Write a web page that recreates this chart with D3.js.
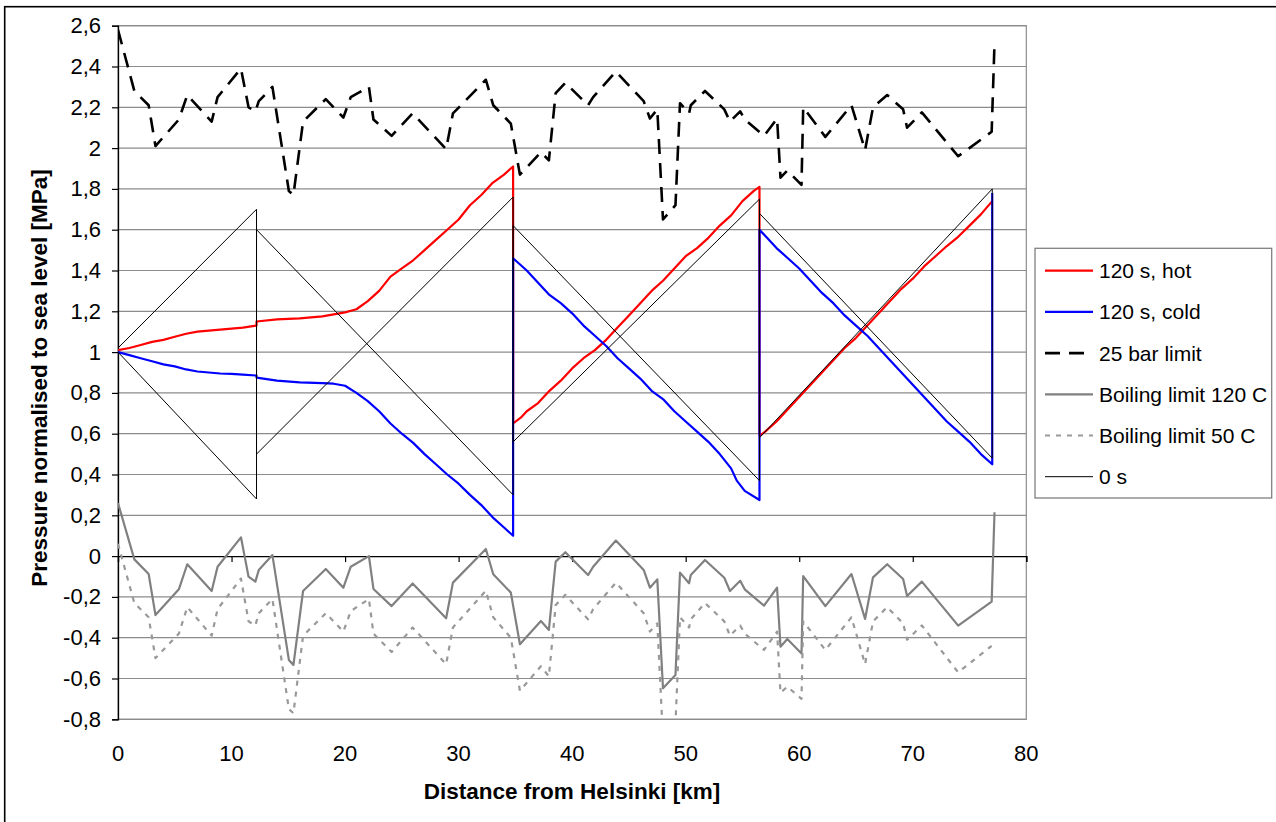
<!DOCTYPE html>
<html><head><meta charset="utf-8">
<script src="https://cdn.jsdelivr.net/npm/d3@7"></script>
<style>body{margin:0;background:#fff}svg{display:block}</style>
</head><body>
<script>
// ---------- data ----------
const xTicks = [0,10,20,30,40,50,60,70,80];
const yTicks = [-0.8,-0.6,-0.4,-0.2,0,0.2,0.4,0.6,0.8,1,1.2,1.4,1.6,1.8,2,2.2,2.4,2.6];
const seriesNames = ["120 s, hot","120 s, cold","25 bar limit","Boiling limit 120 C","Boiling limit 50 C","0 s"];

const hotKm = [0,1,2,3,4,5,6,7,8,9,10,11,12.2,12.2,14,16,18,19,20,21,22,23,24,25,26,27,28,29,30,31,32,33,34,34.8,
  34.8,35.5,36,37,38,39,40,41,42,43,44,45,46,47,48,49,50,51,52,53,54,55,56,56.5,
  56.5,57,58,59,60,61,62,63,64,65,66,67,68,69,70,71,72,73,74,75,76,77];
const hotVal = [1.01,1.02,1.035,1.05,1.06,1.075,1.09,1.10,1.105,1.11,1.115,1.12,1.13,1.15,1.16,1.165,1.175,1.185,1.195,1.21,1.25,1.30,1.37,1.41,1.45,1.50,1.55,1.60,1.65,1.72,1.77,1.83,1.87,1.91,
  0.65,0.68,0.71,0.75,0.81,0.86,0.92,0.97,1.01,1.06,1.12,1.18,1.24,1.30,1.35,1.41,1.47,1.51,1.56,1.62,1.67,1.74,1.79,1.81,
  0.59,0.61,0.66,0.72,0.78,0.84,0.90,0.96,1.02,1.07,1.13,1.19,1.25,1.31,1.36,1.42,1.47,1.52,1.565,1.62,1.675,1.74];

const coldKm = [0,1,2,3,4,5,6,7,8,9,10,11,12.2,12.2,14,16,18,19,20,21,22,23,24,25,26,27,28,29,30,31,32,33,34,34.8,
  34.8,36,37,38,39,40,41,42,43,44,45,46,47,48,49,50,51,52,53,54,54.5,55.2,56.5,
  56.5,57,58,59,60,61,62,63,64,65,66,67,68,69,70,71,72,73,74,75,76,77,77];
const coldVal = [1.00,0.985,0.97,0.955,0.94,0.93,0.915,0.905,0.90,0.895,0.893,0.89,0.885,0.875,0.86,0.852,0.848,0.845,0.835,0.80,0.76,0.71,0.65,0.60,0.555,0.50,0.45,0.40,0.355,0.30,0.25,0.19,0.14,0.10,
  1.46,1.40,1.34,1.28,1.24,1.19,1.13,1.08,1.03,0.97,0.92,0.87,0.81,0.77,0.71,0.66,0.61,0.56,0.50,0.43,0.37,0.32,0.275,
  1.60,1.57,1.51,1.46,1.41,1.35,1.29,1.24,1.18,1.13,1.08,1.02,0.96,0.90,0.84,0.78,0.72,0.66,0.61,0.56,0.50,0.45,1.78];

const terrainKm = [0,1.44,2.7,3.3,5.36,6.1,8.25,8.77,10.83,11.5,12.1,12.4,13.6,15.05,15.45,16.3,18.3,19.85,20.5,22.1,22.5,24.1,25.95,28.9,29.5,32.4,33.05,34.6,35.4,37.25,37.95,38.55,39.4,41.4,41.85,43.85,46.3,46.85,47.5,48.0,49.1,49.5,50.3,50.45,51.7,53.4,53.9,54.8,55.2,56.9,58.05,58.35,58.95,60.2,60.35,62.3,64.6,65.8,66.5,67.75,69.15,69.5,70.8,74.0,76.95,77.2];
const limit25 = [2.58,2.28,2.21,2.01,2.14,2.26,2.13,2.25,2.39,2.20,2.18,2.23,2.30,1.79,1.77,2.13,2.24,2.15,2.25,2.30,2.14,2.06,2.17,1.995,2.17,2.335,2.21,2.12,1.87,1.98,1.94,2.27,2.32,2.21,2.25,2.375,2.23,2.145,2.19,1.65,1.72,2.22,2.17,2.21,2.28,2.19,2.13,2.18,2.14,2.06,2.145,1.855,1.89,1.82,2.20,2.055,2.21,1.99,2.20,2.26,2.19,2.10,2.175,1.96,2.08,2.515];
const boil120 = [0.26,-0.016,-0.088,-0.289,-0.163,-0.04,-0.171,-0.052,0.092,-0.101,-0.125,-0.068,0.005,-0.509,-0.534,-0.171,-0.063,-0.155,-0.052,0.0,-0.161,-0.245,-0.134,-0.305,-0.13,0.035,-0.089,-0.179,-0.432,-0.318,-0.362,-0.027,0.019,-0.093,-0.052,0.076,-0.068,-0.155,-0.114,-0.648,-0.583,-0.081,-0.133,-0.093,-0.019,-0.106,-0.171,-0.121,-0.163,-0.243,-0.155,-0.444,-0.406,-0.477,-0.098,-0.245,-0.088,-0.308,-0.104,-0.04,-0.112,-0.196,-0.125,-0.341,-0.223,0.215];
const boil50 = [0.06,-0.23,-0.30,-0.50,-0.38,-0.25,-0.39,-0.26,-0.11,-0.32,-0.34,-0.28,-0.21,-0.75,-0.77,-0.39,-0.28,-0.37,-0.27,-0.21,-0.38,-0.47,-0.35,-0.53,-0.35,-0.17,-0.30,-0.40,-0.66,-0.54,-0.59,-0.24,-0.19,-0.31,-0.26,-0.13,-0.28,-0.37,-0.33,-0.89,-0.82,-0.30,-0.35,-0.31,-0.23,-0.32,-0.39,-0.34,-0.38,-0.46,-0.37,-0.67,-0.64,-0.70,-0.32,-0.46,-0.30,-0.53,-0.32,-0.25,-0.33,-0.41,-0.34,-0.57,-0.44];

const zeroKm = [0,12.2,12.2,34.8,34.8,56.5,56.5,77];
const zeroRise = [1.02,1.70,0.50,1.76,0.56,1.75,0.58,1.80];
const zeroFall = [1.00,0.28,1.60,0.30,1.62,0.37,1.68,0.48];
const zeroFallEndKm = [77]; const zeroFallEndVal = [1.80];

// ---------- layout ----------
const W = 1276, H = 822;
const P = {l:118, r:1026.3, t:25.7, b:719.3};
const x = d3.scaleLinear().domain([0,80]).range([P.l,P.r]);
const y = d3.scaleLinear().domain([-0.8,2.6]).range([P.b,P.t]);
const font = "'Liberation Sans', Arial, sans-serif";
const fmt = v => String(Math.round(v*10)/10).replace('.',',');

const svg = d3.select("body").append("svg").attr("width",W).attr("height",H);
svg.append("rect").attr("x",4.7).attr("y",6.7).attr("width",W+20).attr("height",H+20)
  .attr("fill","#fff").attr("stroke","#000").attr("stroke-width",1.6);

// gridlines
svg.append("g").selectAll("line").data(yTicks.filter(v=>v!==0)).join("line")
  .attr("x1",P.l).attr("x2",P.r).attr("y1",d=>y(d)).attr("y2",d=>y(d))
  .attr("stroke","#8c8c8c").attr("stroke-width",1.2);
svg.append("rect").attr("x",P.l).attr("y",P.t).attr("width",P.r-P.l).attr("height",P.b-P.t)
  .attr("fill","none").attr("stroke","#8c8c8c").attr("stroke-width",1.2);

// y axis
const yAx = d3.axisLeft(y).tickValues(yTicks).tickFormat(fmt).tickSize(6).tickPadding(11);
const gy = svg.append("g").attr("transform",`translate(${P.l},0)`).call(yAx);
gy.select(".domain").attr("stroke","#000").attr("stroke-width",1.3);
gy.selectAll(".tick line").attr("stroke","#000").attr("stroke-width",1.2);
gy.selectAll("text").attr("font-family",font).attr("font-size",22).attr("fill","#000");

// x axis at y=0 line, labels at bottom
const xAx = d3.axisBottom(x).tickValues(xTicks).tickFormat("").tickSize(6);
const gx = svg.append("g").attr("transform",`translate(0,${y(0)})`).call(xAx);
gx.select(".domain").attr("stroke","#000").attr("stroke-width",1.3);
gx.selectAll(".tick line").attr("stroke","#000").attr("stroke-width",1.2);
svg.append("g").selectAll("text").data(xTicks).join("text")
  .attr("x",d=>x(d)).attr("y",761).attr("text-anchor","middle")
  .attr("font-family",font).attr("font-size",22).text(d=>d);

// titles
svg.append("text").attr("x",572).attr("y",799).attr("text-anchor","middle")
  .attr("font-family",font).attr("font-size",22.5).attr("font-weight","bold").text("Distance from Helsinki [km]");
svg.append("text").attr("transform","translate(47,378) rotate(-90)").attr("text-anchor","middle")
  .attr("font-family",font).attr("font-size",22.5).attr("font-weight","bold").text("Pressure normalised to sea level [MPa]");

// clip
svg.append("clipPath").attr("id","clip").append("rect")
  .attr("x",P.l).attr("y",P.t).attr("width",P.r-P.l).attr("height",P.b-P.t);
const plot = svg.append("g").attr("clip-path","url(#clip)");

const line = d3.line().x(d=>x(d[0])).y(d=>y(d[1]));
const zip = (a,b)=>a.map((v,i)=>[v,b[i]]);
const styles = [
  {stroke:"#ff0000", w:2.2, dash:null},
  {stroke:"#0000ff", w:2.2, dash:null},
  {stroke:"#000000", w:2.6, dash:"15,9"},
  {stroke:"#808080", w:2.2, dash:null},
  {stroke:"#999999", w:2.2, dash:"5,6"},
  {stroke:"#000000", w:1, dash:null}
];
function draw(pts, s){
  plot.append("path").attr("d",line(pts)).attr("fill","none")
    .attr("stroke",s.stroke).attr("stroke-width",s.w).attr("stroke-dasharray",s.dash)
    .attr("stroke-linejoin","round");
}
draw(zip(hotKm,hotVal), styles[0]);
draw(zip(coldKm,coldVal), styles[1]);
draw(zip(terrainKm,limit25), styles[2]);
draw(zip(terrainKm,boil120), styles[3]);
draw(zip(terrainKm.slice(0,boil50.length),boil50), styles[4]);
draw(zip(zeroKm,zeroRise), styles[5]);
draw(zip(zeroKm,zeroFall).concat(zip(zeroFallEndKm,zeroFallEndVal)), styles[5]);

// legend
const lg = svg.append("g");
lg.append("rect").attr("x",1035).attr("y",248.3).attr("width",236.7).attr("height",249.7)
  .attr("fill","#fff").attr("stroke","#808080").attr("stroke-width",1.3);
seriesNames.forEach((n,i)=>{
  const cy = 270.7 + i*41.2;
  const s = styles[i];
  lg.append("line").attr("x1",1045).attr("x2",1093).attr("y1",cy).attr("y2",cy)
    .attr("stroke",s.stroke).attr("stroke-width",s.w).attr("stroke-dasharray",s.dash);
  lg.append("text").attr("x",1099).attr("y",cy+7.5).attr("font-family",font).attr("font-size",21).text(n);
});
</script>
</body></html>
